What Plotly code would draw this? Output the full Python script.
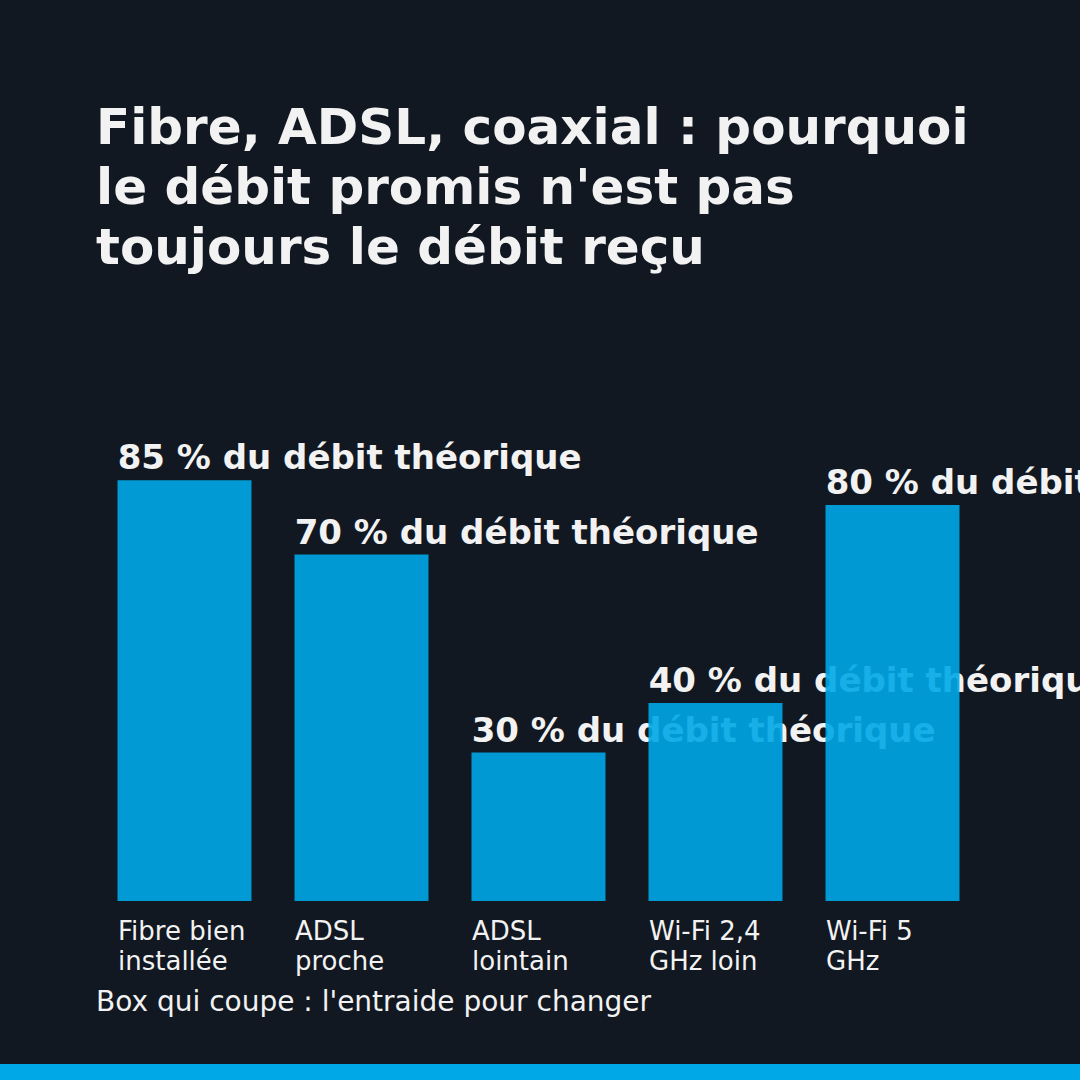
import numpy as np
import plotly.graph_objects as go

# data
title_lines = [
    "Fibre, ADSL, coaxial : pourquoi",
    "le débit promis n'est pas",
    "toujours le débit reçu",
]
categories = [
    ("Fibre bien", "installée"),
    ("ADSL", "proche"),
    ("ADSL", "lointain"),
    ("Wi-Fi 2,4", "GHz loin"),
    ("Wi-Fi 5", "GHz"),
]
values = [85, 70, 30, 40, 80]
value_labels = [f"{v} % du débit théorique" for v in values]
footer = "Box qui coupe : l'entraide pour changer"

# style
W = H = 1080
BG = "#111821"
BLUE = "#00A8E8"
TXT = "#F2F2F2"
FONT = "DejaVu Sans"
M_L, M_R, M_T, M_B = 96, 99, 406, 179
Y_MAX = 100
BAR_W = 0.757

plot_h = H - M_T - M_B
plot_w = W - M_L - M_R
n = len(values)
pos = np.arange(n)
left_edges = pos - BAR_W / 2
px_per_x = plot_w / n
px_per_y = plot_h / Y_MAX


def paper_y(py):
    return (H - M_B - py) / plot_h


def paper_x(px):
    return (px - M_L) / plot_w


fig = go.Figure()

# labels drawn first (under the bars) via zero-length horizontal bars
fig.add_trace(go.Bar(
    orientation="h",
    y=values,
    x=[0.001] * n,
    base=left_edges - 3 / px_per_x,
    width=46 / px_per_y,
    offset=0,
    text=value_labels,
    textposition="outside",
    constraintext="none",
    cliponaxis=False,
    outsidetextfont=dict(family=FONT, size=34, color=TXT, weight="bold"),
    marker=dict(color="rgba(0,0,0,0)", line=dict(width=0)),
    hoverinfo="skip",
    showlegend=False,
    xaxis="x",
    yaxis="y",
))

fig.add_trace(go.Bar(
    x=pos,
    y=values,
    width=BAR_W,
    marker=dict(color=BLUE, line=dict(width=0)),
    opacity=0.9,
    hoverinfo="skip",
    showlegend=False,
    xaxis="x2",
    yaxis="y2",
))

annotations = []
for i, line in enumerate(title_lines):
    annotations.append(dict(
        text=line, xref="paper", yref="paper",
        x=paper_x(96), y=paper_y(144 + 60 * i - 17.3), xshift=-2,
        xanchor="left", yanchor="middle", showarrow=False,
        font=dict(family=FONT, size=50, color=TXT, weight="bold"),
    ))

for i, lines in enumerate(categories):
    for j, line in enumerate(lines):
        annotations.append(dict(
            text=line, xref="x", yref="y",
            x=left_edges[i], y=0, xshift=-2, yshift=-(30 + 30 * j),
            xanchor="left", yanchor="middle", showarrow=False,
            font=dict(family=FONT, size=26, color=TXT),
        ))

annotations.append(dict(
    text=footer, xref="paper", yref="paper",
    x=paper_x(96), y=paper_y(1011 - 9.7), xshift=-2,
    xanchor="left", yanchor="middle", showarrow=False,
    font=dict(family=FONT, size=28, color=TXT),
))

axis_x = dict(range=[-0.5, n - 0.5], visible=False, fixedrange=True)
axis_y = dict(range=[0, Y_MAX], visible=False, fixedrange=True)

fig.update_layout(
    width=W,
    height=H,
    margin=dict(l=M_L, r=M_R, t=M_T, b=M_B),
    paper_bgcolor=BG,
    plot_bgcolor=BG,
    xaxis=axis_x,
    yaxis=axis_y,
    xaxis2=dict(axis_x, overlaying="x"),
    yaxis2=dict(axis_y, overlaying="y"),
    barmode="overlay",
    annotations=annotations,
    shapes=[dict(
        type="rect", xref="paper", yref="paper",
        x0=paper_x(-10), x1=paper_x(W + 10),
        y0=paper_y(H + 10), y1=paper_y(1064),
        fillcolor=BLUE, line=dict(width=0), layer="above",
    )],
    hovermode=False,
    font=dict(family=FONT, color=TXT),
)

fig.write_html(
    "out.html",
    config={"displayModeBar": False},
    post_script="document.body.style.margin='0';document.body.style.background='" + BG + "';",
)
